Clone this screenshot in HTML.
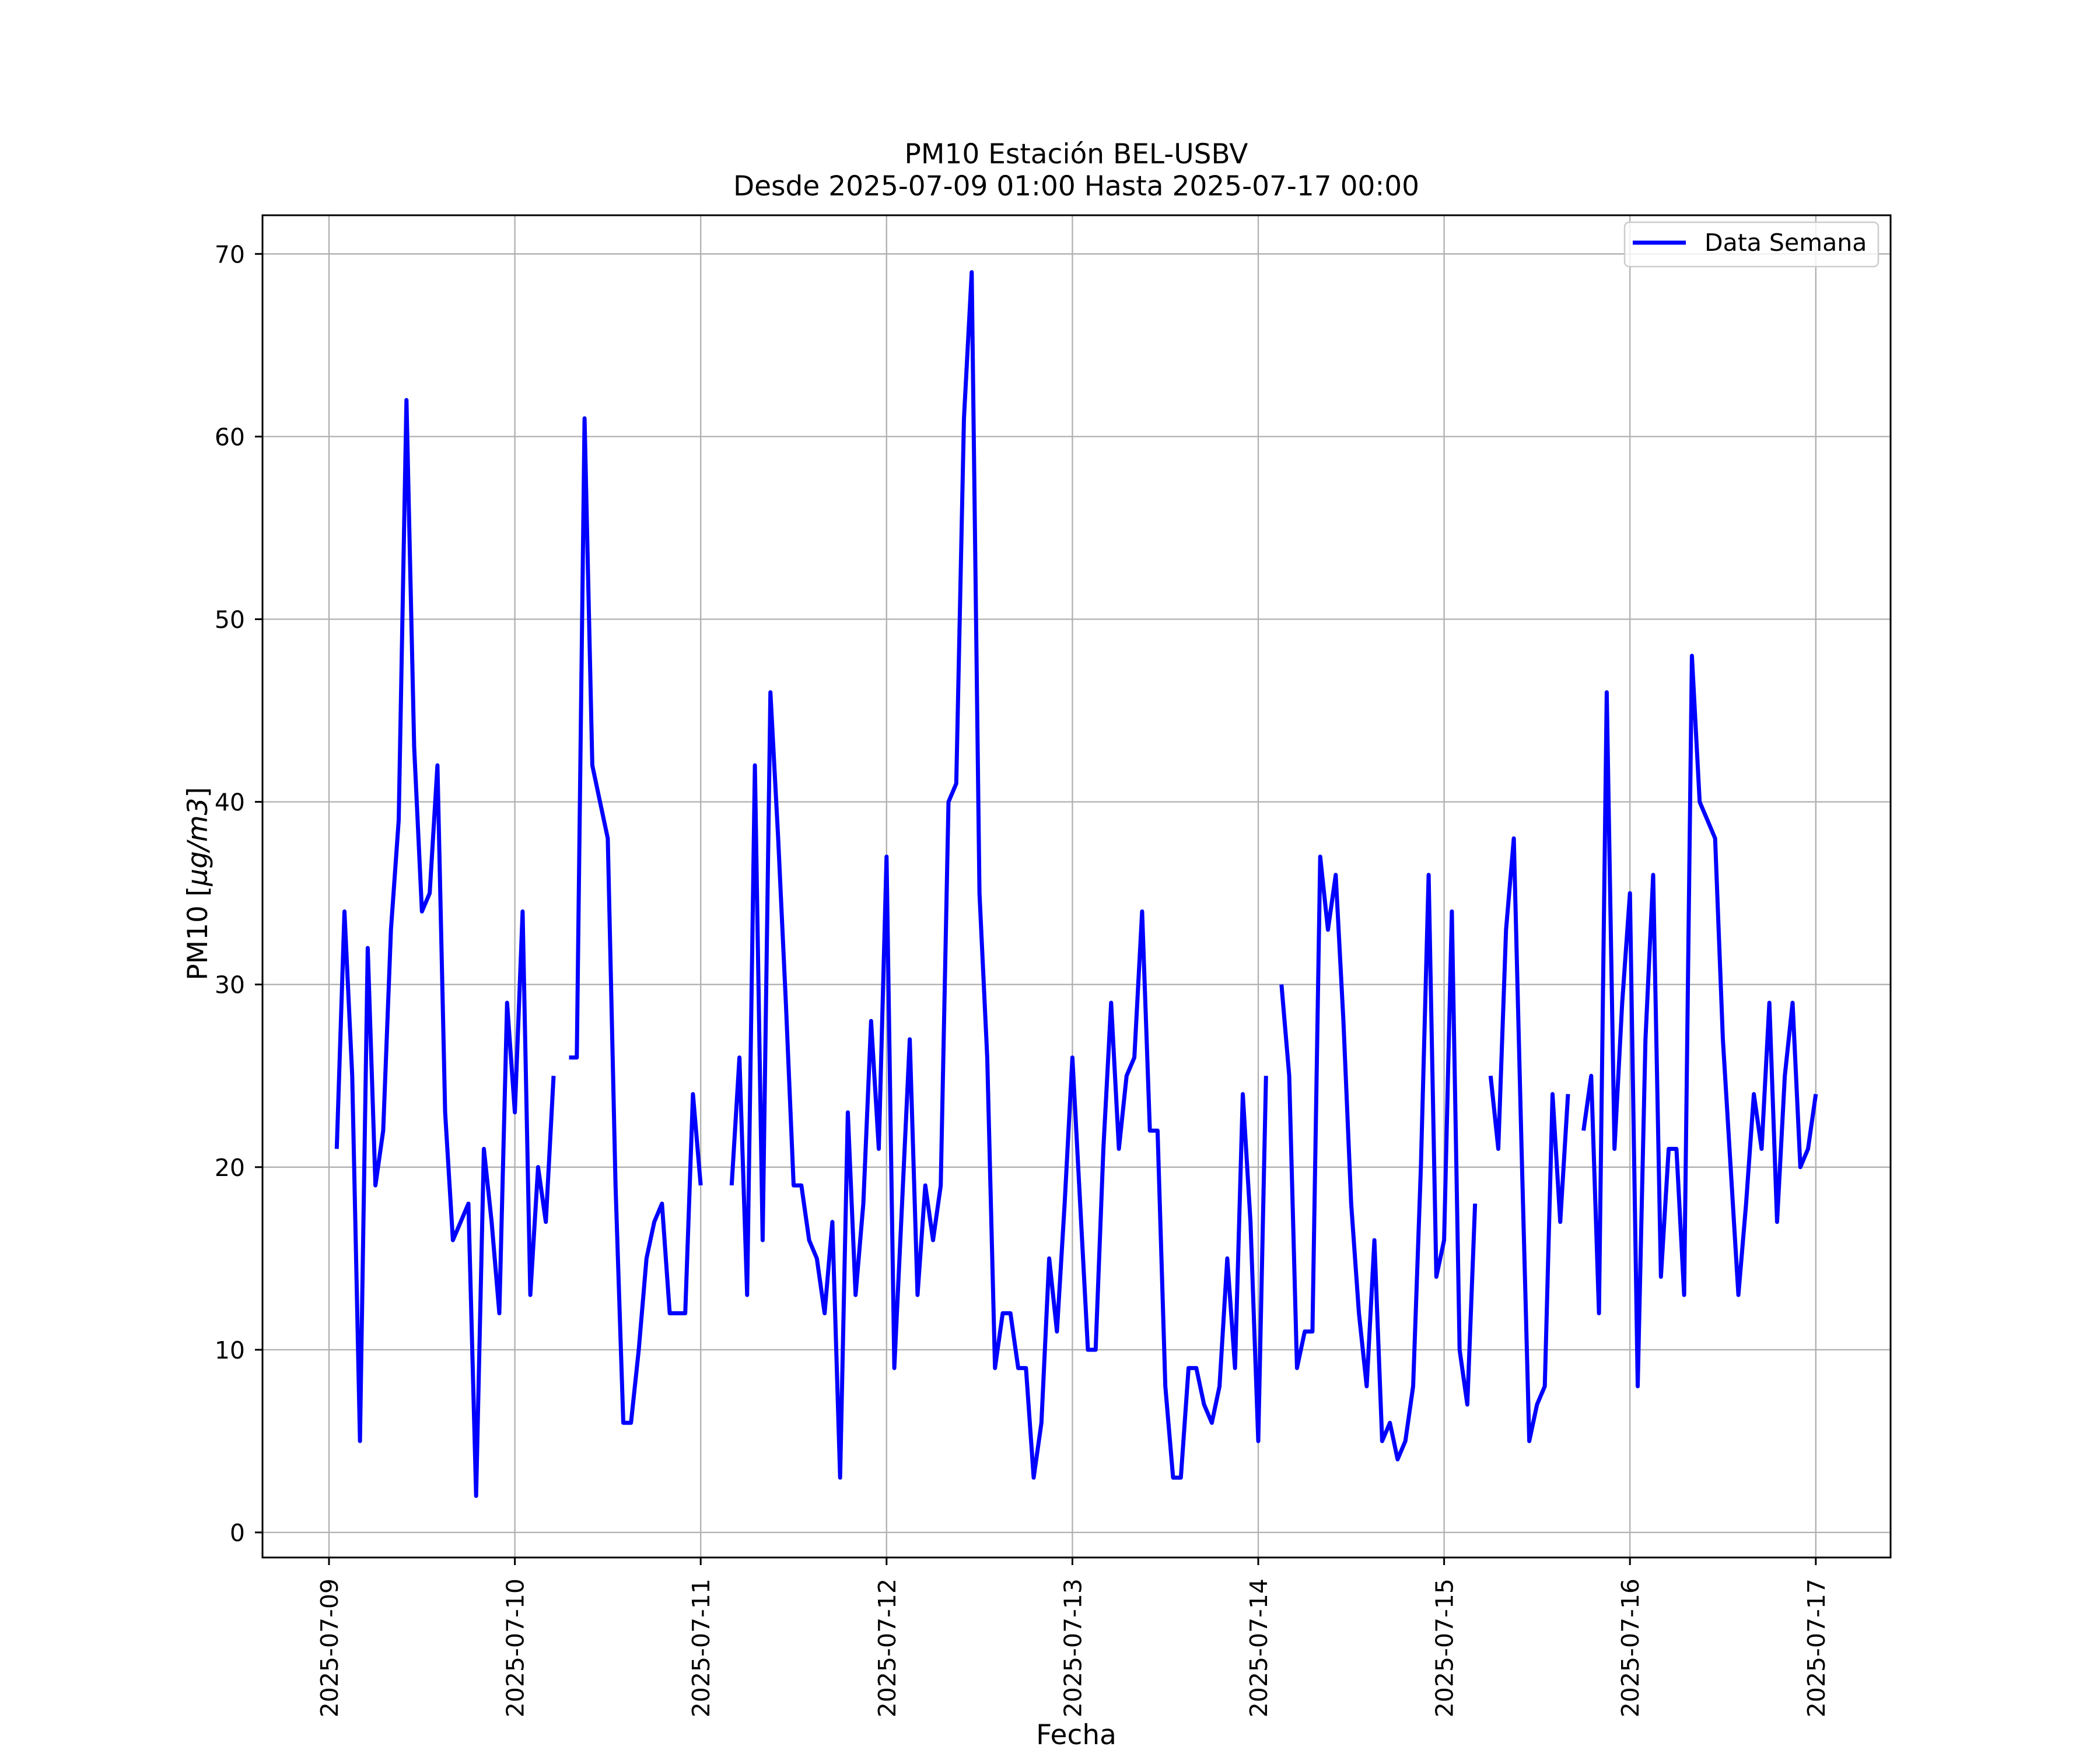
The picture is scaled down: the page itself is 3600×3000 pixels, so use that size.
<!DOCTYPE html>
<html><head><meta charset="utf-8"><style>
html,body{margin:0;padding:0;background:#fff;}
svg{display:block;font-family:"DejaVu Sans","Liberation Sans",sans-serif;}
</style></head><body>
<svg id="chart" width="3600" height="3000" viewBox="0 0 3600 3000" xmlns="http://www.w3.org/2000/svg">
<rect x="0" y="0" width="3600" height="3000" fill="#fff"/>
<g id="grid"></g>
<g id="series"></g>
<rect x="450" y="369" width="2791" height="2301" fill="none" stroke="#000" stroke-width="3"/>
<g id="yticks"></g>
<g id="xticks"></g>
<text x="1845" y="280" font-size="47" text-anchor="middle">PM10 Estación BEL-USBV</text>
<text x="1845" y="335" font-size="47" text-anchor="middle">Desde 2025-07-09 01:00 Hasta 2025-07-17 00:00</text>
<text transform="translate(355,1515) rotate(-90)" font-size="47" text-anchor="middle">PM10 [<tspan font-style="italic">µg/m3</tspan>]</text>
<text x="1845" y="2990" font-size="47" text-anchor="middle">Fecha</text>
<g>
<rect x="2785" y="381" width="435" height="76" rx="8" fill="#fff" fill-opacity="0.8" stroke="#ccc" stroke-width="2.5"/>
<line x1="2799" y1="416" x2="2890" y2="416" stroke="#0000ff" stroke-width="7"/>
<text x="2922" y="430" font-size="41">Data Semana</text>
</g>
</svg>
<script>
const dayLabels = ["2025-07-09","2025-07-10","2025-07-11","2025-07-12","2025-07-13","2025-07-14","2025-07-15","2025-07-16","2025-07-17"];
const yTicks = [0,10,20,30,40,50,60,70];
const day09 = [21,34,25,5,32,19,22,33,39,62,43,34,35,42,23,16,17,18,2,21,17,12,29,23];
const day10 = [34,13,20,17,25,null,26,26,61,42,40,38,19,6,6,10,15,17,18,12,12,12,24,19];
const day11 = [null,null,null,19,26,13,42,16,46,38,29,19,19,16,15,12,17,3,23,13,18,28,21,37];
const day12 = [9,18,27,13,19,16,19,40,41,61,69,35,26,9,12,12,9,9,3,6,15,11,18,26];
const day13 = [18,10,10,21,29,21,25,26,34,22,22,8,3,3,9,9,7,6,8,15,9,24,17,5];
const day14 = [25,null,30,25,9,11,11,37,33,36,28,18,12,8,16,5,6,4,5,8,20,36,14,16];
const day15 = [34,10,7,18,null,25,21,33,38,21,5,7,8,24,17,24,null,22,25,12,46,21,29,35];
const day16 = [8,27,36,14,21,21,13,48,40,39,38,27,20,13,18,24,21,29,17,25,29,20,21,24];

const NS = "http://www.w3.org/2000/svg";
const X0 = 564, PXDAY = 318.6, Y0 = 2627, PXUNIT = 31.31;
function xScale(dayFrac){ return X0 + dayFrac*PXDAY; }
function yScale(v){ return Y0 - v*PXUNIT; }
function mk(tag, attrs, parent){ const e=document.createElementNS(NS,tag); for(const k in attrs) e.setAttribute(k,attrs[k]); parent.appendChild(e); return e; }

const grid = document.getElementById('grid');
const yt = document.getElementById('yticks');
const xt = document.getElementById('xticks');
yTicks.forEach(v=>{
  const y=yScale(v);
  const g=mk('line',{x1:450,x2:3241,y1:y,y2:y,stroke:'#b0b0b0','stroke-width':2.3},grid);
  
  
  const t=mk('line',{x1:437,x2:450,y1:y,y2:y,stroke:'#000','stroke-width':3},yt);
  
  
  const l=mk('text',{x:420,y:y+15,'font-size':41,'text-anchor':'end'},yt);
  
  
  l.textContent=v;
});
dayLabels.forEach((d,i)=>{
  const x=xScale(i);
  const g=mk('line',{x1:x,x2:x,y1:369,y2:2670,stroke:'#b0b0b0','stroke-width':2.3},grid);
  
  
  const t=mk('line',{x1:x,x2:x,y1:2670,y2:2683,stroke:'#000','stroke-width':3},xt);
  
  
  const l=mk('text',{transform:`translate(${x+15},2706) rotate(-90)`,'font-size':41,'text-anchor':'end'},xt);
  
  
  l.textContent=d;
});

const values = [].concat(day09,day10,day11,day12,day13,day14,day15,day16);
const series = document.getElementById('series');
let seg=[];
const segs=[];
values.forEach((v,i)=>{
  const t=(i+1)/24;
  if(v===null){ if(seg.length) segs.push(seg); seg=[]; }
  else seg.push([xScale(t),yScale(v)]);
});
if(seg.length) segs.push(seg);
segs.forEach(s=>{
  const p=mk('polyline',{points:s.map(q=>q[0].toFixed(1)+','+q[1].toFixed(1)).join(' '),fill:'none',stroke:'#0000ff','stroke-width':7,'stroke-linejoin':'round','stroke-linecap':'butt'},series);
  
  
});
</script>
</body></html>
